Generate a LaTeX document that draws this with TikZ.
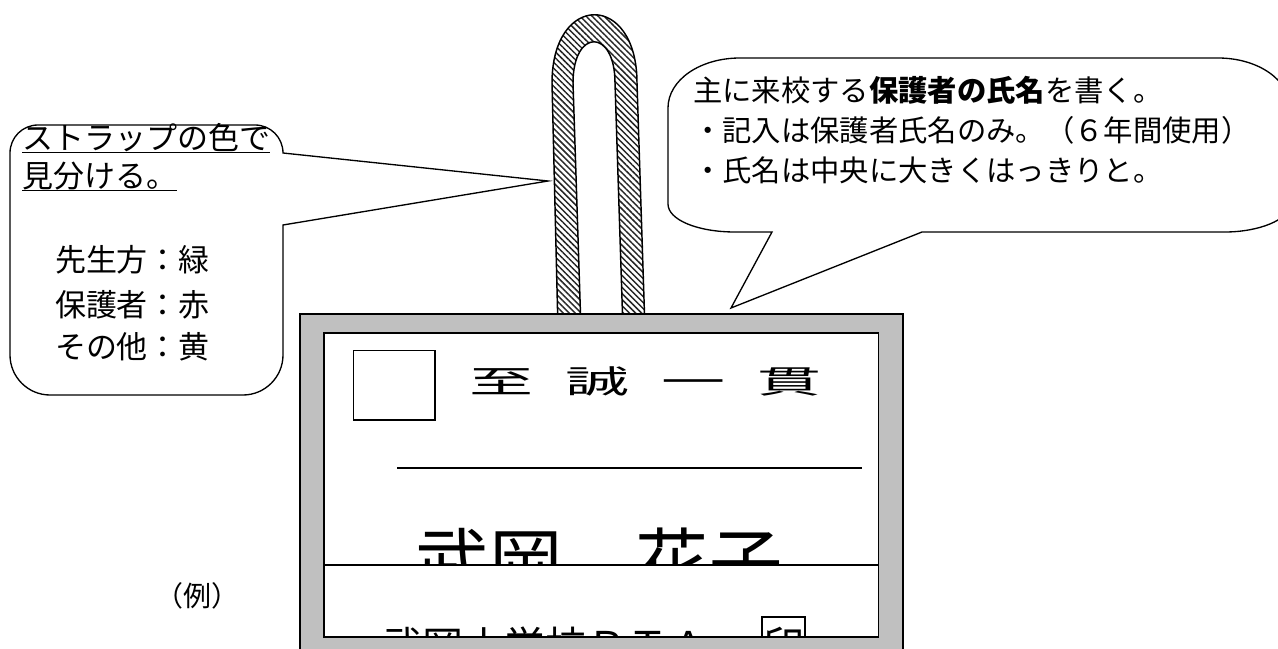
\documentclass[tikz,border=0pt]{standalone}
\usepackage{fontspec}
\usepackage{graphicx}
\usetikzlibrary{patterns.meta}
\newfontfamily\jp{Noto Sans CJK JP}
\definecolor{framegray}{RGB}{192,192,192}
\begin{document}
\begin{tikzpicture}[x=0.75pt,y=-0.75pt,
  callout/.style={draw=black,line width=1pt,fill=white},
  outl/.style={draw=black,line width=1.1pt},
  txt/.style={inner sep=0pt,outer sep=0pt},
  fleft/.style={txt,anchor=base west,font=\jp\fontsize{23.25pt}{28pt}\selectfont},
  fright/.style={txt,anchor=base west,font=\jp\fontsize{22pt}{27pt}\selectfont},
  strapfill/.style={pattern={Lines[angle=-45,distance=3.2pt,line width=1.1pt]},pattern color=black!85}]
\useasboundingbox (0,0) rectangle (1278,649);
\clip (0,0) rectangle (1278,649);

% left callout
\path[callout] (10,153) .. controls (10,137.5) and (22.5,125) .. (38,125)
  -- (255,125) .. controls (270.5,125) and (283,137.5) .. (283,153)
  -- (548,181) -- (283,225)
  -- (283,355) .. controls (283,377) and (265,395) .. (243,395)
  -- (50,395) .. controls (28,395) and (10,377) .. (10,355) -- cycle;
\node[fleft] (l1) at (22,150) {ストラップの色で};
\node[fleft] (l2) at (22,188) {見分ける。};
\draw[line width=1.2pt] ([yshift=-2pt]l1.base west) -- ([yshift=-2pt]l1.base east);
\draw[line width=1.2pt] ([yshift=-2pt]l2.base west) -- ([yshift=-2pt]l2.base east);
\node[fleft] (c1) at (55,271) {先生方：緑};
\node[fleft] (c2) at (55,316) {保護者：赤};
\node[fleft] (c3) at (55,358) {その他：黄};

% right callout
\path[callout] (668,108) .. controls (668,80) and (700,58) .. (740,58)
  -- (1218,58) .. controls (1258,58) and (1290,80) .. (1290,108)
  -- (1290,204) .. controls (1290,220) and (1258,232) .. (1225,232)
  -- (922,232) -- (731,308) -- (772,232)
  -- (735,232) .. controls (698,232) and (668,220) .. (668,204) -- cycle;
\node[fright] (r1) at (693,102) {主に来校する{\bfseries 保護者の氏名}を書く。};
\node[fright] (r2) at (693,142) {・記入は保護者氏名のみ。（６年間使用）};
\node[fright] (r3) at (693,182) {・氏名は中央に大きくはっきりと。};

% strap
\path[strapfill] (558,330) -- (552,83) .. controls (552,-8) and (637,-8) .. (637,83)
  -- (645,330) -- (623,330) -- (615,83) .. controls (615,28) and (573,28) .. (573,83)
  -- (581,330) -- cycle;
\draw[line width=1.1pt] (558,330) -- (552,83) .. controls (552,-8) and (637,-8) .. (637,83)
  -- (645,330) (623,330) -- (615,83) .. controls (615,28) and (573,28) .. (573,83)
  -- (581,330);

% card
\path[outl,fill=framegray] (300,314) rectangle (903,690);
\path[outl,fill=white] (324,333) rectangle (878.5,637);
\draw[line width=1pt] (353.5,350.7) rectangle (435,420);
\node[txt,anchor=base,font=\jp\fontsize{24pt}{28pt}\selectfont] (motto) at (645,393)
  {\scalebox{2}[1]{至\hspace{12pt}誠\hspace{12pt}一\hspace{12pt}貫}};
\draw[line width=1pt] (397,468) -- (862,468);
\node[txt,anchor=base,font=\jp\fontsize{55pt}{60pt}\selectfont] (name) at (599,589) {武岡　花子};
\path[outl,fill=white] (324,565) rectangle (878.5,637);
\begin{scope}
  \clip (324,565) rectangle (878.5,636);
  \node[txt,anchor=base west,font=\jp\fontsize{30.75pt}{36pt}\selectfont] (pta) at (381,661) {武岡小学校ＰＴＡ};
  \node[txt,anchor=base,font=\jp\fontsize{30.75pt}{36pt}\selectfont] (inn) at (783.5,661) {印};
  \draw[line width=1.2pt] (762,617) rectangle (805,705);
\end{scope}
\path[outl] (324,333) rectangle (878.5,637);

% example label
\node[txt,anchor=base west,font=\jp\fontsize{21pt}{26pt}\selectfont] (ex) at (155,606) {（例）};
\end{tikzpicture}
\end{document}
